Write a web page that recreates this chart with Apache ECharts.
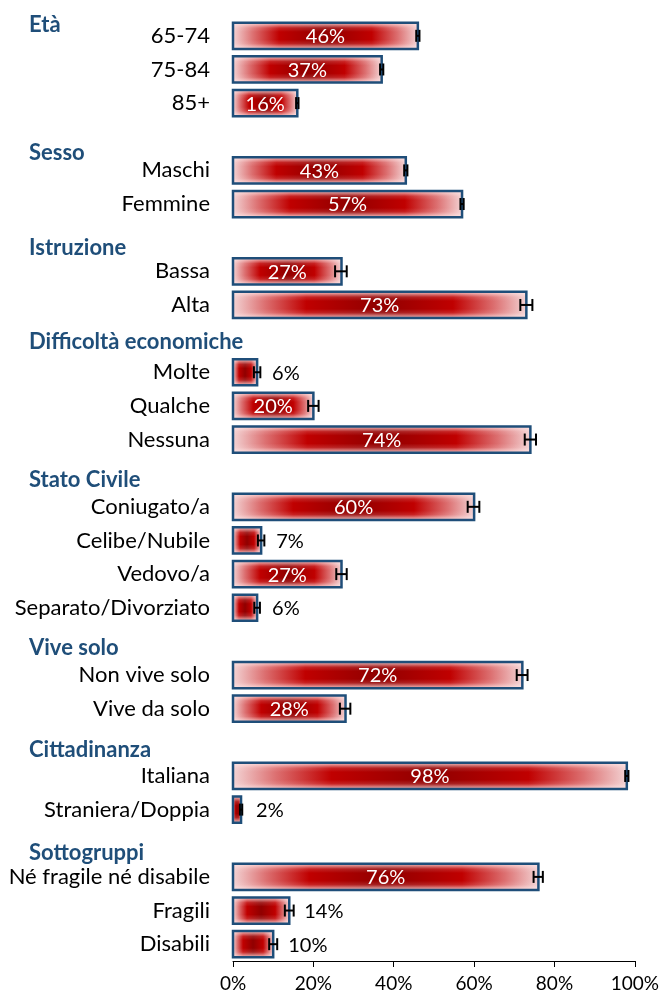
<!DOCTYPE html>
<html>
<head>
<meta charset="utf-8">
<script src="https://cdn.jsdelivr.net/npm/echarts@6/dist/echarts.min.js"></script>
<style>
  html, body { margin: 0; padding: 0; background: #fff; }
  #chart { width: 662px; height: 996px; }
</style>
</head>
<body>
<div id="chart"></div>
<script>
// righe dell'asse y ('' = riga vuota tra i gruppi)
let categories = ['65-74', '75-84', '85+', '',
    'Maschi', 'Femmine', '',
    'Bassa', 'Alta', '',
    'Molte', 'Qualche', 'Nessuna', '',
    'Coniugato/a', 'Celibe/Nubile', 'Vedovo/a', 'Separato/Divorziato', '',
    'Non vive solo', 'Vive da solo', '',
    'Italiana', 'Straniera/Doppia', '',
    'Né fragile né disabile', 'Fragili', 'Disabili'];
let values = [46, 37, 16, null,
    43, 57, null,
    27, 73, null,
    6, 20, 74, null,
    60, 7, 27, 6, null,
    72, 28, null,
    98, 2, null,
    76, 14, 10];
let errLow = [45.6, 36.6, 15.7, null,
    42.6, 56.6, null,
    25.4, 71.5, null,
    5.2, 18.7, 72.6, null,
    58.4, 6.2, 25.7, 5.3, null,
    70.6, 26.6, null,
    97.6, 1.7, null,
    74.8, 12.9, 9.0];
let errHigh = [46.4, 37.4, 16.3, null,
    43.4, 57.4, null,
    28.3, 74.5, null,
    6.8, 21.3, 75.4, null,
    61.3, 7.8, 28.3, 6.7, null,
    73.3, 29.2, null,
    98.4, 2.3, null,
    77.1, 15.1, 11.0];
let xTicks = [0, 20, 40, 60, 80, 100];

let groupTitles = ['Età', 'Sesso', 'Istruzione', 'Difficoltà economiche', 'Stato Civile', 'Vive solo', 'Cittadinanza', 'Sottogruppi'];
let groupTitleY = [25, 153, 248, 342, 480, 648, 750, 853];

let data = [];
values.forEach(function (v, i) {
    if (v !== null) {
        data.push([i, v, errLow[i], errHigh[i]]);
    }
});

const FONT = 'Lato';

function renderBar(params, api) {
    let idx = api.value(0);
    let v = api.value(1);
    let p0 = api.coord([0, idx]);
    let p1 = api.coord([v, idx]);
    let pl = api.coord([api.value(2), idx]);
    let ph = api.coord([api.value(3), idx]);
    let h = api.size([0, 1])[1] * 0.78;
    let x = p0[0], y = p0[1] - h / 2, w = p1[0] - p0[0];
    let cy = p0[1];

    let children = [
        {
            type: 'rect',
            shape: { x: x, y: y, width: w, height: h },
            style: {
                fill: new echarts.graphic.LinearGradient(0, 0, 1, 0, [
                    { offset: 0, color: '#f3d3d4' },
                    { offset: 0.11, color: '#dc6f70' },
                    { offset: 0.25, color: '#c00000' },
                    { offset: 0.5, color: '#900000' },
                    { offset: 0.75, color: '#c00000' },
                    { offset: 0.89, color: '#dc6f70' },
                    { offset: 1, color: '#f3d3d4' }
                ])
            }
        },
        {
            type: 'rect',
            shape: { x: x, y: y, width: w, height: h },
            style: {
                fill: new echarts.graphic.LinearGradient(0, 0, 0, 1, [
                    { offset: 0, color: 'rgba(255,230,230,0.85)' },
                    { offset: 0.2, color: 'rgba(255,230,230,0.15)' },
                    { offset: 0.35, color: 'rgba(255,230,230,0)' },
                    { offset: 0.65, color: 'rgba(255,230,230,0)' },
                    { offset: 0.8, color: 'rgba(255,230,230,0.15)' },
                    { offset: 1, color: 'rgba(255,230,230,0.85)' }
                ])
            }
        },
        {
            type: 'rect',
            shape: { x: x, y: y, width: w, height: h },
            style: { fill: null, stroke: '#1f4e79', lineWidth: 2.5 }
        },
        // barra d'errore
        {
            type: 'line',
            shape: { x1: pl[0], y1: cy, x2: ph[0], y2: cy },
            style: { stroke: '#000', lineWidth: 2 }
        },
        {
            type: 'line',
            shape: { x1: pl[0], y1: cy - 6, x2: pl[0], y2: cy + 6 },
            style: { stroke: '#000', lineWidth: 2 }
        },
        {
            type: 'line',
            shape: { x1: ph[0], y1: cy - 6, x2: ph[0], y2: cy + 6 },
            style: { stroke: '#000', lineWidth: 2 }
        }
    ];

    let inside = v >= 15;
    children.push({
        type: 'text',
        style: {
            text: v + '%',
            x: inside ? x + w / 2 : p1[0] + 15,
            y: cy + 1,
            fill: inside ? '#fff' : '#000',
            font: '20px ' + FONT,
            align: inside ? 'center' : 'left',
            verticalAlign: 'middle'
        }
    });

    return { type: 'group', children: children };
}

var myChart = echarts.init(document.getElementById('chart'));

var option = {
    animation: false,
    grid: { left: 233, right: 25, top: 19, bottom: 35, containLabel: false },
    xAxis: {
        type: 'value',
        min: 0,
        max: 100,
        interval: 20,
        axisLine: { show: true, lineStyle: { color: '#000', width: 1 } },
        axisTick: { show: true, length: 6, lineStyle: { color: '#000' } },
        splitLine: { show: false },
        axisLabel: {
            formatter: function (val) {
                return xTicks.indexOf(val) >= 0 ? val + '%' : '';
            },
            color: '#000',
            fontFamily: FONT,
            fontSize: 19,
            margin: 13
        }
    },
    yAxis: {
        type: 'category',
        inverse: true,
        data: categories,
        axisLine: { show: false },
        axisTick: { show: false },
        axisLabel: {
            color: '#000',
            fontFamily: FONT,
            fontSize: 22,
            margin: 23,
            interval: 0
        }
    },
    graphic: groupTitles.map(function (t, i) {
        return {
            type: 'text',
            x: 29,
            y: groupTitleY[i],
            style: {
                text: t,
                fill: '#1f4e79',
                font: 'bold 22px ' + FONT,
                verticalAlign: 'middle'
            }
        };
    }),
    series: [{
        type: 'custom',
        renderItem: renderBar,
        encode: { x: 1, y: 0 },
        data: data,
        clip: false
    }]
};

myChart.setOption(option);
</script>
</body>
</html>
